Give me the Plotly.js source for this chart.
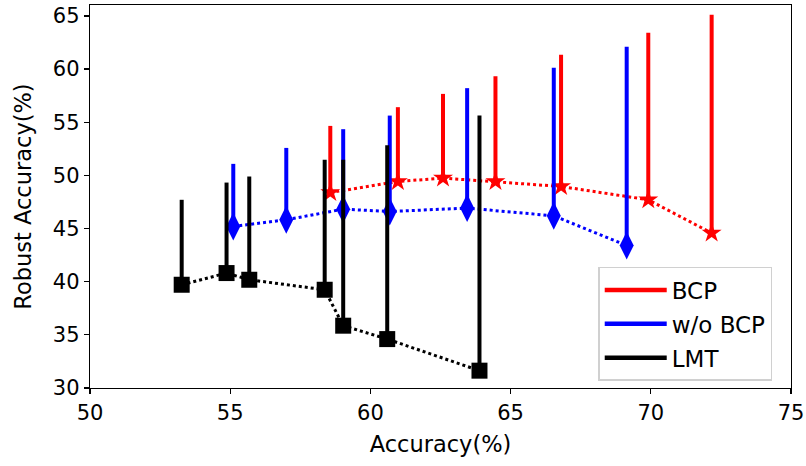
<!DOCTYPE html>
<html>
<head>
<meta charset="utf-8">
<script src="https://cdn.plot.ly/plotly-3.0.1.min.js"></script>
<style>html,body{margin:0;padding:0;background:#fff;}#chart{width:806px;height:466px;}</style>
</head>
<body>
<div id="chart"></div>
<script>
// BCP
const bcpX = [58.57, 60.98, 62.59, 64.46, 66.8, 69.91, 72.17];
const bcpY = [48.38, 49.42, 49.74, 49.42, 48.95, 47.7, 44.57];
const bcpTop = [54.65, 56.41, 57.66, 59.32, 61.33, 63.42, 65.11];
// w/o BCP
const woX = [55.11, 57.0, 59.03, 60.69, 63.45, 66.54, 69.14];
const woY = [45.19, 45.82, 46.82, 46.6, 46.92, 46.19, 43.4];
const woTop = [51.08, 52.58, 54.34, 55.62, 58.2, 60.13, 62.1];
// LMT
const lmtX = [53.27, 54.87, 55.68, 58.37, 59.03, 60.6, 63.89];
const lmtY = [39.71, 40.81, 40.18, 39.24, 35.86, 34.6, 31.63];
const lmtTop = [47.7, 49.32, 49.89, 51.46, 51.46, 52.84, 55.62];

const xTicks = [50, 55, 60, 65, 70, 75];
const yTicks = [30, 35, 40, 45, 50, 55, 60, 65];

function series(x, y, top, color, symbol, size, name) {
  return {
    x: x, y: y, type: 'scatter', mode: 'lines+markers', showlegend: false,
    line: {color: color, width: 3, dash: 'dot'},
    marker: {color: color, symbol: symbol, size: size, line: {width: 0}},
    error_y: {type: 'data', symmetric: false,
      array: top.map((t, i) => t - y[i]),
      arrayminus: y.map(() => 0),
      color: color, thickness: 4, width: 0},
    name: name, hoverinfo: 'x+y'
  };
}
function legendItem(color, name, grp) {
  return {x: [null], y: [null], type: 'scatter', mode: 'lines', name: name,
    legendgroup: grp, line: {color: color, width: 4.5}, showlegend: true};
}

const data = [
  series(bcpX, bcpY, bcpTop, '#ff0000', 'star', 15, 'BCP'),
  series(woX, woY, woTop, '#0000ff', 'diamond-tall', 20, 'w/o BCP'),
  series(lmtX, lmtY, lmtTop, '#000000', 'square', 16, 'LMT'),
  legendItem('#ff0000', 'BCP', 'a'),
  legendItem('#0000ff', 'w/o BCP', 'b'),
  legendItem('#000000', 'LMT', 'c')
];

const FAM = 'DejaVu Sans, sans-serif';
const layout = {
  width: 806, height: 466,
  margin: {l: 90, r: 15, t: 5, b: 78},
  paper_bgcolor: '#fff', plot_bgcolor: '#fff',
  font: {family: FAM, size: 21, color: '#000'},
  showlegend: true,
  xaxis: {
    range: [50, 75], tickvals: xTicks, ticktext: xTicks.map(String),
    showgrid: false, zeroline: false, showline: true, linecolor: '#000', linewidth: 1.3, mirror: true,
    ticks: 'outside', ticklen: 5, tickwidth: 1.3, tickcolor: '#000',
    tickfont: {family: FAM, size: 21, color: '#000'},
    title: {text: 'Accuracy(%)', font: {family: FAM, size: 22.5, color: '#000'}, standoff: 12}
  },
  yaxis: {
    range: [30, 66.02], tickvals: yTicks, ticktext: yTicks.map(String),
    showgrid: false, zeroline: false, showline: true, linecolor: '#000', linewidth: 1.3, mirror: true,
    ticks: 'outside', ticklen: 5, tickwidth: 1.3, tickcolor: '#000',
    tickfont: {family: FAM, size: 21, color: '#000'},
    title: {text: 'Robust Accuracy(%)', font: {family: FAM, size: 22.5, color: '#000'}, standoff: 15}
  },
  legend: {
    x: 0.725, y: 0.316, xanchor: 'left', yanchor: 'top',
    bgcolor: 'rgba(255,255,255,0.8)', bordercolor: '#d0d0d0', borderwidth: 1.5,
    font: {family: FAM, size: 23, color: '#000'},
    traceorder: 'grouped', tracegroupgap: 1, itemwidth: 62
  }
};

Plotly.newPlot('chart', data, layout, {displayModeBar: false, staticPlot: true});
</script>
</body>
</html>
